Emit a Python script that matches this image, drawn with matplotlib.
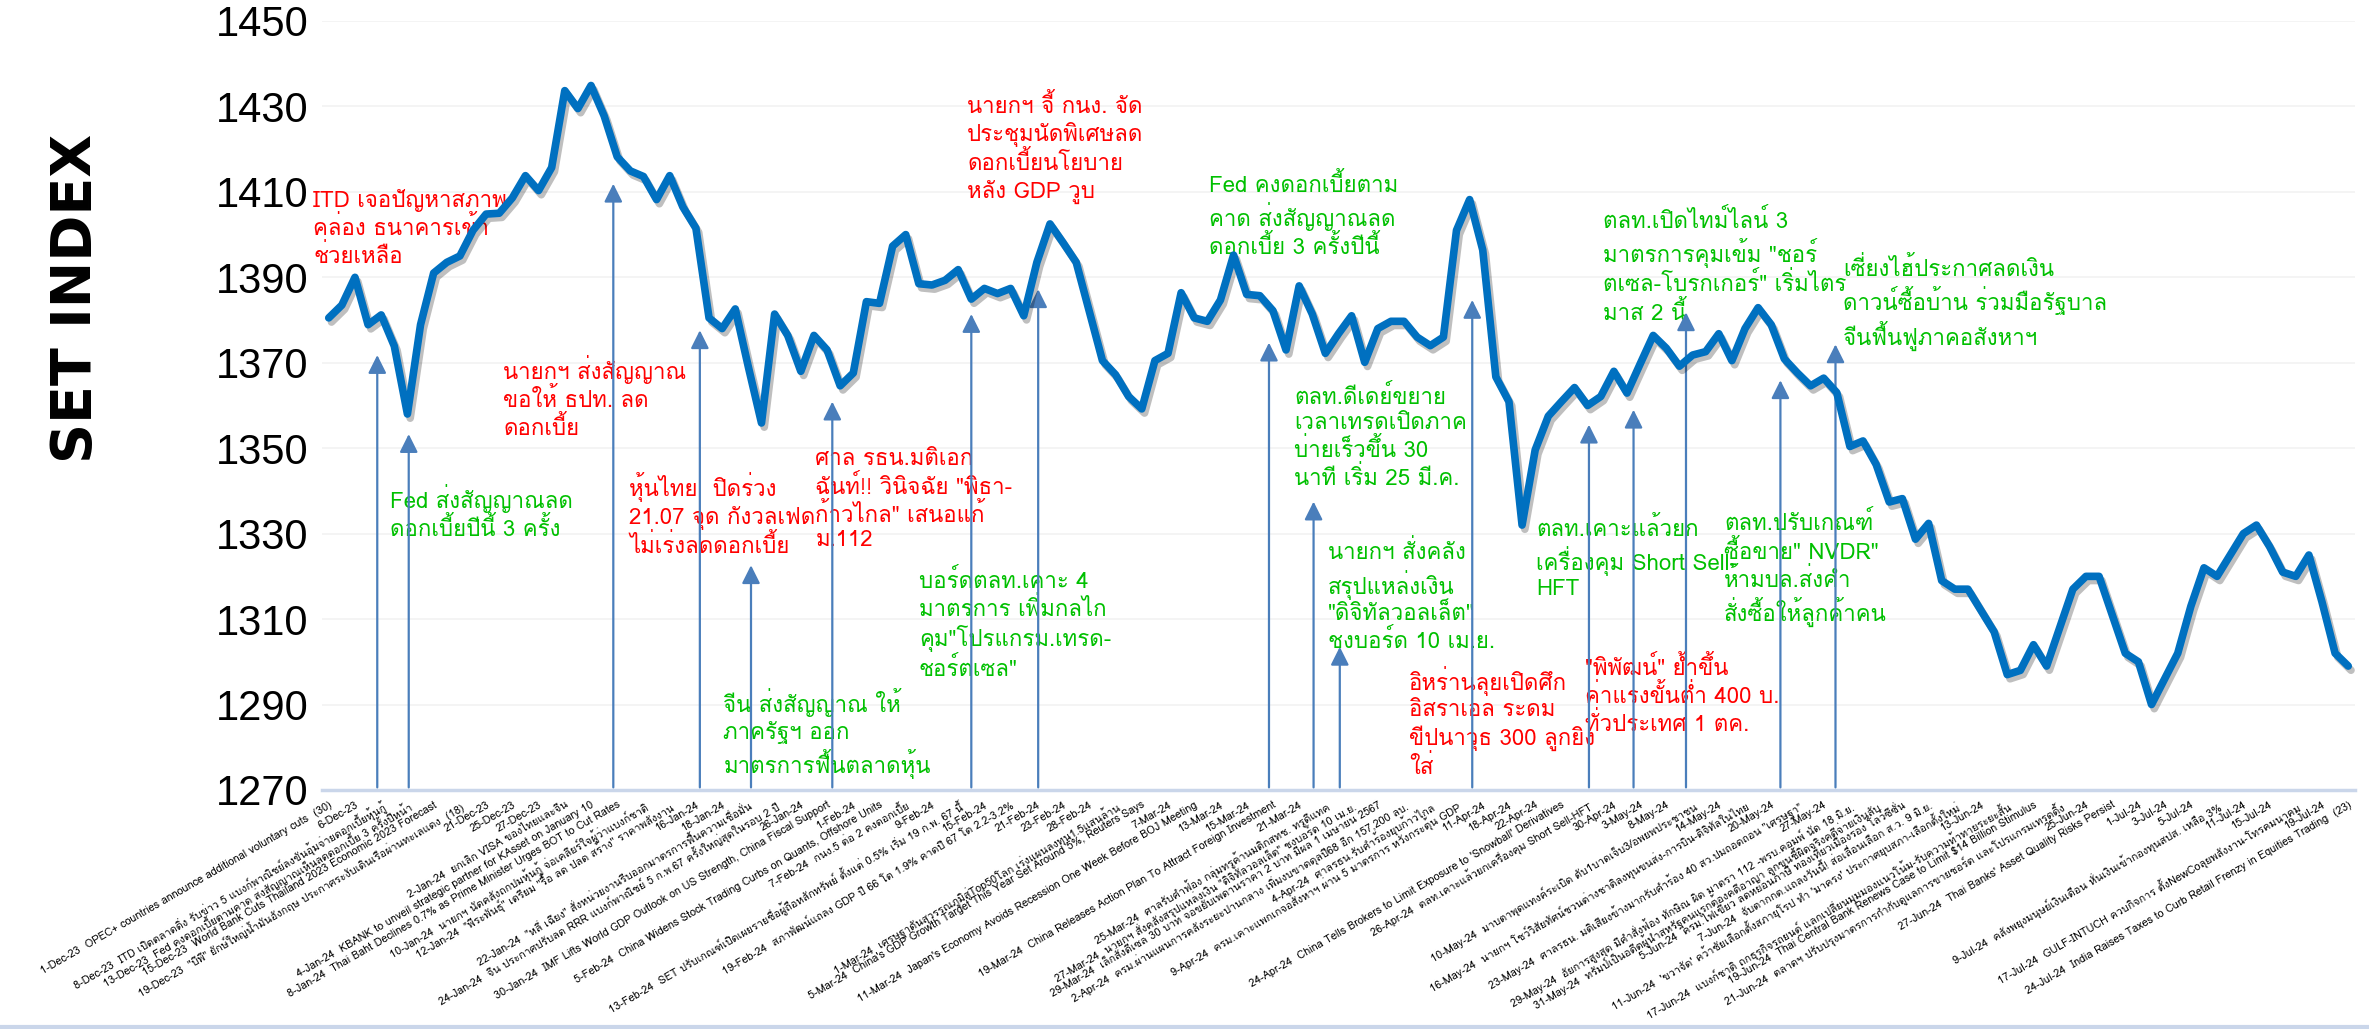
import matplotlib
matplotlib.use("Agg")
import matplotlib.pyplot as plt
import matplotlib.patheffects as pe
from matplotlib import font_manager as fm
from matplotlib.lines import Line2D

# ── Data ─────────────────────────────────────────────────────────────────────
set_index = [
    1380.5, 1383.5, 1390.0, 1378.9, 1381.2, 1373.9, 1358.0, 1378.9, 1391.0, 1393.5,
    1395.0, 1401.0, 1404.8, 1405.0, 1408.6, 1413.8, 1410.3, 1415.7, 1433.7, 1429.5,
    1434.9, 1427.8, 1418.2, 1414.9, 1413.6, 1408.2, 1413.8, 1406.5, 1401.5, 1380.5,
    1378.0, 1382.6, 1369.0, 1355.9, 1381.4, 1376.4, 1368.0, 1376.4, 1373.0, 1364.6,
    1367.6, 1384.3, 1383.9, 1397.3, 1400.0, 1388.5, 1388.2, 1389.3, 1391.8, 1384.9,
    1387.4, 1386.2, 1387.4, 1381.0, 1393.5, 1402.5, 1398.1, 1393.5, 1382.0, 1370.5,
    1367.2, 1362.1, 1359.2, 1370.5, 1372.2, 1386.4, 1380.5, 1379.7, 1384.7, 1395.2,
    1386.0, 1385.7, 1382.2, 1373.0, 1388.0, 1381.4, 1372.2, 1376.8, 1381.0, 1370.1,
    1378.0, 1379.7, 1379.7, 1376.0, 1374.0, 1376.0, 1401.0, 1408.2, 1396.4, 1366.7,
    1360.9, 1332.0, 1349.6, 1357.5, 1360.9, 1364.2, 1360.0, 1362.1, 1368.0, 1362.9,
    1369.7, 1376.4, 1373.4, 1369.2, 1371.8, 1372.6, 1376.8, 1370.5, 1378.0, 1382.9,
    1378.9, 1370.9, 1367.6, 1364.6, 1366.4, 1363.0, 1350.4, 1351.7, 1346.2, 1337.4,
    1338.2, 1328.7, 1332.4, 1319.0, 1317.0, 1317.0, 1312.0, 1307.0, 1297.0, 1298.0,
    1304.0, 1299.0, 1308.0, 1317.0, 1320.0, 1320.0, 1311.0, 1302.0, 1300.0, 1290.0,
    1296.0, 1302.0, 1313.0, 1322.0, 1320.0, 1325.0, 1330.0, 1332.0, 1327.0, 1321.0,
    1320.0, 1325.0, 1314.0, 1302.0, 1299.0,
]

tick_labels = [
    "1-Dec-23  OPEC+ countries announce additional voluntary cuts  (30)",
    "6-Dec-23",
    "8-Dec-23  ITD เปิดตลาดดิ่ง รับข่าว 5 แบงก์พาณิชย์ลงขันอุ้มจ่ายดอกเบี้ยหุ้นกู้",
    "13-Dec-23  Fed คงดอกเบี้ยตามคาด ส่งสัญญาณเห็นลดดอกเบี้ย 3 ครั้งปีหน้า",
    "15-Dec-23  World Bank Cuts Thailand 2023 Economic 2023 Forecast",
    "19-Dec-23  \"บีพี\" ยักษ์ใหญ่น้ำมันอังกฤษ ประกาศระงับเดินเรือผ่านทะเลแดง  (18)",
    "21-Dec-23",
    "25-Dec-23",
    "27-Dec-23",
    "2-Jan-24  ยกเลิก VISA ของไทยและจีน",
    "4-Jan-24  KBANK to unveil strategic partner for KAsset on January 10",
    "8-Jan-24  Thai Baht Declines 0.7% as Prime Minister Urges BOT to Cut Rates",
    "10-Jan-24  นายกฯ นัดคลังถกปมหุ้นกู้ จ่อเคลียร์ใจผู้ว่าแบงก์ชาติ",
    "12-Jan-24  \"พีระพันธุ์\" เตรียม \"รื้อ ลด ปลด สร้าง\" ราคาพลังงาน",
    "16-Jan-24",
    "18-Jan-24",
    "22-Jan-24  \"หลี่ เฉียง\" สั่งหน่วยงานรีบออกมาตรการฟื้นความเชื่อมั่น",
    "24-Jan-24  จีน ประกาศปรับลด RRR แบงก์พาณิชย์ 5 ก.พ.67 ครั้งใหญ่สุดในรอบ 2 ปี",
    "26-Jan-24",
    "30-Jan-24  IMF Lifts World GDP Outlook on US Strength, China Fiscal Support",
    "1-Feb-24",
    "5-Feb-24  China Widens Stock Trading Curbs on Quants, Offshore Units",
    "7-Feb-24  กนง.5 ต่อ 2 คงดอกเบี้ย",
    "9-Feb-24",
    "13-Feb-24  SET ปรับเกณฑ์เปิดเผยรายชื่อผู้ถือหลักทรัพย์ ตั้งแต่ 0.5% เริ่ม 19 ก.พ. 67 นี้",
    "15-Feb-24",
    "19-Feb-24  สภาพัฒน์แถลง GDP ปี 66 โต 1.9% คาดปี 67 โต 2.2-3.2%",
    "21-Feb-24",
    "23-Feb-24",
    "28-Feb-24",
    "1-Mar-24  เศรษฐาดันสุวรรณภูมิสู่Top50โลก เร่งแผนลงทุน1.5แสนล้าน",
    "5-Mar-24  China's GDP Growth Target This Year Set Around 5%, Reuters Says",
    "7-Mar-24",
    "11-Mar-24  Japan's Economy Avoids Recession One Week Before BOJ Meeting",
    "13-Mar-24",
    "15-Mar-24",
    "19-Mar-24  China Releases Action Plan To Attract Foreign Investment",
    "21-Mar-24",
    "25-Mar-24  ศาลรับคำฟ้อง กลุ่มทรูค้านมติกสทช. ทรูดีแทค",
    "27-Mar-24  นายกฯ สั่งคลังสรุปแหล่งเงิน \"ดิจิทัลวอลเล็ต\" ชงบอร์ด 10 เม.ย.",
    "29-Mar-24  เล็กสั่งดีเซล 30 บาท จ่อขยับเพดานราคา 2 บาท มีผล 1 เมษายน 2567",
    "2-Apr-24  ครม.ผ่านแผนการคลังระยะปานกลาง เพิ่มงบขาดดุลปี68 อีก 157,200 ลบ.",
    "4-Apr-24  ศาลรธน.รับคำร้องยุบก้าวไกล",
    "9-Apr-24  ครม.เคาะแพกเกจอสังหาฯ ผ่าน 5 มาตรการ หวังกระตุ้น GDP",
    "11-Apr-24",
    "18-Apr-24",
    "22-Apr-24",
    "24-Apr-24  China Tells Brokers to Limit Exposure to 'Snowball' Derivatives",
    "26-Apr-24  ตลท.เคาะแล้วยกเครื่องคุม Short Sell-HFT",
    "30-Apr-24",
    "3-May-24",
    "8-May-24",
    "10-May-24  มาบตาพุดแทงค์ระเบิด ดับ1บาดเจ็บ3/อพยพประชาชน",
    "14-May-24",
    "16-May-24  นายกฯ โชว์วิสัยทัศน์ชวนต่างชาติลงทุนขนส่ง-การบิน-ดิจิทัลในไทย",
    "20-May-24",
    "23-May-24  ศาลรธน. มติเสียงข้างมากรับคำร้อง 40 สว.ปมถอดถอน \"เศรษฐา\"",
    "27-May-24",
    "29-May-24  อัยการสูงสุด มีคำสั่งฟ้อง ทักษิณ ผิด มาตรา 112 -พรบ.คอมพ์ นัด 18 มิ.ย.",
    "31-May-24  ทรัมป์เป็นอดีตผู้นำสหรัฐคนแรกต้องคดีอาญา ลูกขุนชี้ผิดจริงคดีจ่ายเงินลับ",
    "5-Jun-24  ครม.ไฟเขียว ลดหย่อนภาษี ท่องเที่ยวเมืองรอง โลว์ซีซั่น",
    "7-Jun-24  จับตากกต.แถลงวันนี้! ส่อเลื่อนเลือก ส.ว. 9 มิ.ย.",
    "11-Jun-24  'ขวาจัด' คว้าชัยเลือกตั้งสภายุโรป ทำ 'มาครง' ประกาศยุบสภา-เลือกตั้งใหม่",
    "13-Jun-24",
    "17-Jun-24  แบงก์ชาติ ถกธุรกิจรถยนต์ แลกเปลี่ยนมุมมองแนวโน้ม-รับความท้าทายระยะสั้น",
    "19-Jun-24  Thai Central Bank Renews Case to Limit \\$14 Billion Stimulus",
    "21-Jun-24  ตลาดฯ ปรับปรุงมาตรการกำกับดูแลการขายชอร์ต และโปรแกรมเทรดดิ้ง",
    "25-Jun-24",
    "27-Jun-24  Thai Banks' Asset Quality Risks Persist",
    "1-Jul-24",
    "3-Jul-24",
    "5-Jul-24",
    "9-Jul-24  คลังพยุงมนุษย์เงินเดือน หั่นเงินเข้ากองทุนสปส. เหลือ 3%",
    "11-Jul-24",
    "15-Jul-24",
    "17-Jul-24  GULF-INTUCH ควบกิจการ ตั้งNewCoลุยพลังงาน-โทรคมนาคม",
    "19-Jul-24",
    "24-Jul-24  India Raises Taxes to Curb Retail Frenzy in Equities Trading  (23)",
]

y_ticks = [1270, 1290, 1310, 1330, 1350, 1370, 1390, 1410, 1430, 1450]

# event arrows: category position and the index level the arrow points at
arrow_pos = [3.7, 6.1, 21.7, 28.3, 32.2, 38.4, 49.0, 54.1, 71.7,
             75.1, 77.1, 87.2, 96.1, 99.5, 103.5, 110.7, 114.9]
arrow_level = [1371.8, 1353.3, 1411.9, 1377.6, 1322.6, 1360.9, 1381.4, 1387.2, 1374.7,
               1337.5, 1303.5, 1384.7, 1355.5, 1359.0, 1381.8, 1365.9, 1374.3]

note_text = [
    "ITD เจอปัญหาสภาพ\nคล่อง ธนาคารเข้า\nช่วยเหลือ",
    "นายกฯ ส่งสัญญาณ\nขอให้ ธปท. ลด\nดอกเบี้ย",
    "หุ้นไทย  ปิดร่วง\n21.07 จุด กังวลเฟด\nไม่เร่งลดดอกเบี้ย",
    "ศาล รธน.มติเอก\nฉันท์!! วินิจฉัย \"พิธา-\nก้าวไกล\" เสนอแก้\nม.112",
    "นายกฯ จี้ กนง. จัด\nประชุมนัดพิเศษลด\nดอกเบี้ยนโยบาย\nหลัง GDP วูบ",
    "อิหร่านลุยเปิดศึก\nอิสราเอล ระดม\nขีปนาวุธ 300 ลูกยิง\nใส่",
    "\"พิพัฒน์\" ย้ำขึ้น\nค่าแรงขั้นต่ำ 400 บ.\nทั่วประเทศ 1 ตค.",
    "Fed ส่งสัญญาณลด\nดอกเบี้ยปีนี้ 3 ครั้ง",
    "จีน ส่งสัญญาณ ให้\nภาครัฐฯ ออก\nมาตรการฟื้นตลาดหุ้น",
    "บอร์ดตลท.เคาะ 4\nมาตรการ เพิ่มกลไก\nคุม\"โปรแกรม.เทรด-\nชอร์ตเซล\"",
    "Fed คงดอกเบี้ยตาม\nคาด ส่งสัญญาณลด\nดอกเบี้ย 3 ครั้งปีนี้",
    "ตลท.ดีเดย์ขยาย\nเวลาเทรดเปิดภาค\nบ่ายเร็วขึ้น 30\nนาที เริ่ม 25 มี.ค.",
    "นายกฯ สั่งคลัง\nสรุปแหล่งเงิน\n\"ดิจิทัลวอลเล็ต\"\nชงบอร์ด 10 เม.ย.",
    "ตลท.เคาะแล้วยก\nเครื่องคุม Short Sell-\nHFT",
    "ตลท.เปิดไทม์ไลน์ 3\nมาตรการคุมเข้ม \"ชอร์\nตเซล-โบรกเกอร์\" เริ่มไตร\nมาส 2 นี้",
    "ตลท.ปรับเกณฑ์\nซื้อขาย\" NVDR\"\nห้ามบล.ส่งคำ\nสั่งซื้อให้ลูกค้าคน",
    "เซี่ยงไฮ้ประกาศลดเงิน\nดาวน์ซื้อบ้าน ร่วมมือรัฐบาล\nจีนฟื้นฟูภาคอสังหาฯ",
]
note_tone = ["neg"] * 7 + ["pos"] * 10

# layout of the notes (category position, index level of the first line top)
note_pos = [-1.2, 13.3, 22.9, 37.1, 48.7, 82.4, 95.8,
            4.7, 30.1, 45.0, 67.1, 73.6, 76.2, 92.1, 97.2, 106.4, 115.5]
note_top = [1410.7, 1371.8, 1344.5, 1349.7, 1432.9, 1299.0, 1301.4,
            1341.7, 1293.9, 1321.8, 1414.5, 1364.7, 1328.4, 1334.0, 1406.0, 1335.2, 1394.8]


# ── Fonts: find something that can draw Thai ────────────────────────────────
def thai_family():
    try:
        from fontTools.ttLib import TTFont
    except ImportError:
        return None
    found = []
    for path in sorted(fm.findSystemFonts()):
        try:
            cmap = TTFont(path, fontNumber=0, lazy=True).getBestCmap() or {}
        except Exception:
            continue
        if 0x0E01 in cmap and 0x0E49 in cmap:
            found.append(path)
    if not found:
        return None
    found.sort(key=lambda p: ("bold" in p.lower(), "italic" in p.lower(), len(p)))
    fm.fontManager.addfont(found[0])
    return fm.FontProperties(fname=found[0]).get_name()


thai = thai_family()
families = ([thai] if thai else []) + ["DejaVu Sans"]
narrow = ["Liberation Sans Narrow", "Liberation Sans", "DejaVu Sans"]
plt.rcParams["font.family"] = families

tone_color = {"neg": "#FF0000", "pos": "#00C000"}
LINE_BLUE = "#0070C0"
ARROW_BLUE = "#4A7EBB"
AXIS_GREY = "#CAD6EA"

# ── Figure ───────────────────────────────────────────────────────────────────
fig = plt.figure(figsize=(23.69, 10.29), dpi=100)
ax = fig.add_axes([0.136, 0.2323, 0.858, 0.7473])

x = list(range(len(set_index)))
ax.plot(x, set_index, color=LINE_BLUE, lw=5.5, solid_joinstyle="round",
        solid_capstyle="round", zorder=4,
        path_effects=[pe.SimpleLineShadow(offset=(2, -3), shadow_color="black", alpha=0.25),
                      pe.Normal()])

for pos, level in zip(arrow_pos, arrow_level):
    ax.annotate("", xy=(pos, level), xytext=(pos, 1270.6),
                arrowprops=dict(arrowstyle="-|>,head_length=0.5,head_width=0.25",
                                color=ARROW_BLUE, lw=1.6, mutation_scale=22,
                                shrinkA=0, shrinkB=0),
                zorder=3)

for txt, tone, pos, top in zip(note_text, note_tone, note_pos, note_top):
    ax.text(pos, top, txt, color=tone_color[tone], fontsize=16, ha="left", va="top",
            linespacing=1.22, zorder=2)

ax.set_xlim(-0.5, len(set_index) - 0.5)
ax.set_ylim(1270, 1450)
ax.set_yticks(y_ticks)
ax.set_yticklabels([str(v) for v in y_ticks], family=narrow, fontsize=30)
ax.tick_params(axis="y", length=0, pad=10)
ax.yaxis.grid(True, color="#F2F2F2", lw=1.2)
ax.set_axisbelow(True)

ax.set_xticks(range(0, len(set_index), 2))
ax.set_xticklabels(tick_labels, rotation=30, ha="right", rotation_mode="anchor",
                   fontsize=7.8)
ax.tick_params(axis="x", length=0, pad=7)

for side in ("top", "right", "left"):
    ax.spines[side].set_visible(False)
ax.spines["bottom"].set_color(AXIS_GREY)
ax.spines["bottom"].set_linewidth(2.5)

fig.text(0.032, 0.71, "SET INDEX", rotation=90, ha="center", va="center",
         fontsize=40, weight="bold", family="DejaVu Sans")
fig.add_artist(Line2D([0, 1], [0.002, 0.002], transform=fig.transFigure,
                      color=AXIS_GREY, lw=3))

fig.savefig("out.png", dpi=100)
